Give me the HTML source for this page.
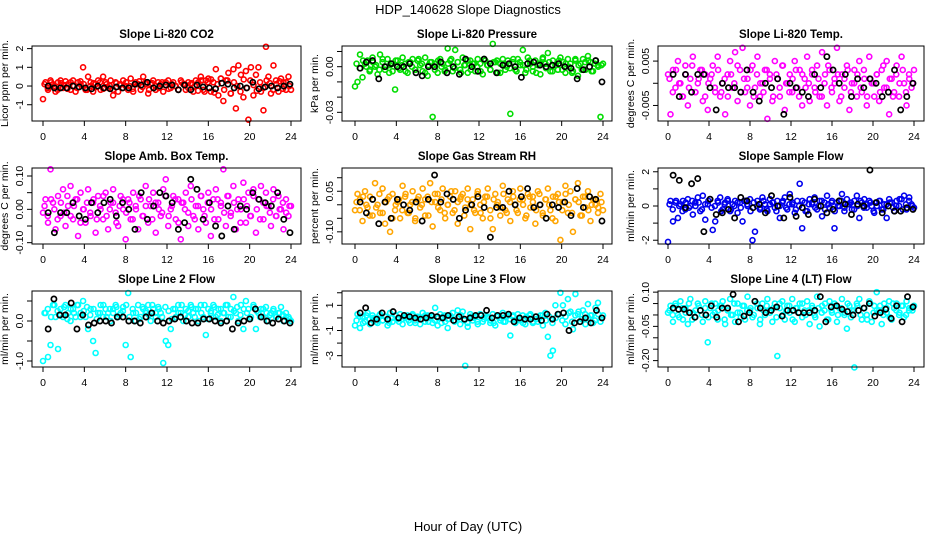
<!DOCTYPE html>
<html><head><meta charset="utf-8">
<style>
html,body{margin:0;padding:0;background:#fff;}
svg{display:block;font-family:"Liberation Sans",sans-serif;}
</style></head>
<body>
<svg id="chart" width="936" height="540" viewBox="0 0 936 540">
<text x="468" y="14" text-anchor="middle" font-size="13">HDP_140628  Slope Diagnostics</text>
<text x="468" y="531" text-anchor="middle" font-size="13">Hour of Day (UTC)</text>
</svg>
<script>
// ---- data arrays ----
const xTicks = [0,4,8,12,16,20,24];
const titles = ["Slope Li-820 CO2","Slope Li-820 Pressure","Slope Li-820 Temp.","Slope Amb. Box Temp.","Slope Gas Stream RH","Slope Sample Flow","Slope Line 2 Flow","Slope Line 3 Flow","Slope Line 4 (LT) Flow"];
const yTitles = ["Licor ppm per min.","kPa per min.","degrees C per min.","degrees C per min.","percent per min.","ml/min per min.","ml/min per min.","ml/min per min.","ml/min per min."];
const colors = ["#ff0000","#00dd00","#ff00ff","#ff00ff","#ffa500","#0000ee","#00ffff","#00ffff","#00ffff"];

const co2All = [-0.7,0.2,-0.2,0.3,0.1,-0.3,0.2,0.3,-0.1,0.25,0.1,-0.2,0.3,-0.3,0.2,0.1,1.0,-0.2,0.5,0.2,-0.3,0.1,0.3,-0.2,0.5,0.2,-0.1,0.3,-0.5,0.2,-0.3,0.1,0.3,0.0,-0.2,0.4,-0.3,0.2,0.1,-0.2,0.5,0.2,-0.4,0.1,0.3,-0.2,0.2,0.1,-0.3,0.2,0.3,-0.1,0.2,0.0,-0.2,0.3,0.1,-0.2,0.2,0.1,-0.3,0.3,0.2,0.5,-0.2,0.3,0.4,-0.3,0.2,0.9,-0.5,0.4,-0.8,0.3,0.7,-0.4,0.9,-1.2,1.1,0.6,-0.6,0.8,-1.8,1.0,-0.5,0.6,1.0,-0.3,-1.3,2.1,0.5,-0.4,1.1,0.3,-0.3,0.4,0.2,-0.2,0.5,-0.2];
const co2Core = [0.1,-0.1,0.2,0.0,-0.2,0.15,0.05,-0.15,0.2,0.0,-0.1,0.25,0.1,-0.2,0.0,0.15,-0.05,0.2,-0.15,0.1,0.0,-0.2,0.15,0.05,-0.1,0.2,0.0,-0.15,0.1,0.25,-0.05,0.1,-0.2,0.15,0.0,-0.1,0.2,0.05,-0.15,0.1,0.0,-0.2,0.2,0.1,-0.1,0.15,0.0,-0.25,0.3,-0.3,0.2,0.35,-0.35,0.1,0.4,-0.2,0.3,-0.4,0.2,0.0,-0.3,0.35,-0.1,0.3,0.05,-0.25,0.2,-0.1,0.3,0.15,-0.2,0.1,0.25,-0.15,0.2,0.0];
const co2Sel = [0.0,-0.1,-0.1,-0.1,0.0,-0.05,-0.1,-0.15,0.0,-0.1,-0.15,-0.05,-0.1,-0.1,0.1,0.05,0.2,-0.1,0.0,0.05,0.05,-0.2,0.05,-0.2,0.05,-0.05,-0.1,-0.15,0.15,0.1,-0.1,0.0,-0.1,0.2,-0.15,-0.05,0.0,-0.1,0.0,0.1];
const presAll = [-0.013,-0.01,0.008,-0.007,0.002,0.004,-0.002,0.006,0.0,-0.005,0.008,0.003,-0.002,0.005,0.001,-0.003,-0.015,0.004,-0.002,0.006,0.002,-0.004,0.003,0.005,-0.002,0.004,0.001,-0.003,0.006,-0.006,0.003,-0.033,0.002,-0.004,0.005,0.002,-0.002,0.012,0.004,-0.003,0.011,0.003,-0.002,0.006,0.001,-0.004,0.004,0.002,-0.003,0.005,0.002,-0.005,0.004,0.001,-0.002,0.015,0.003,-0.004,0.002,0.005,-0.002,0.004,-0.031,0.003,-0.002,0.005,0.001,0.011,-0.004,0.006,0.002,-0.003,0.004,0.001,-0.005,0.006,0.002,0.009,-0.003,0.004,0.001,-0.002,0.006,0.003,-0.004,0.005,0.002,-0.003,0.004,-0.006,0.002,0.005,-0.002,0.007,0.003,-0.003,0.004,0.001,-0.033,0.002];
const presCore = [0.002,-0.001,0.004,0.0,-0.003,0.003,0.001,-0.002,0.005,0.0,-0.004,0.002,0.004,-0.001,0.001,-0.003,0.003,0.0,-0.002,0.005,0.002,-0.004,0.001,0.003,-0.002,0.004,0.0,-0.003,0.002,0.005,-0.001,0.003,-0.004,0.001,0.004,-0.002,0.002,0.0,-0.003,0.005,0.001,-0.002,0.003,0.004,-0.004,0.002,0.0,-0.001,0.005,-0.003,0.003,0.001,-0.002,0.004,0.0,-0.004,0.002,0.005,-0.001,0.003,-0.003,0.001,0.004,-0.002,0.002,0.0,-0.004,0.005,0.001,-0.002,0.003,0.004,-0.003,0.002,0.0,0.001];
const presSel = [-0.001,0.003,0.004,-0.008,0.0,0.002,0.0,0.0,0.002,-0.004,-0.006,0.0,0.0,0.003,-0.004,0.0,-0.005,0.005,0.0,-0.003,0.005,0.002,-0.004,0.001,0.002,0.0,-0.007,0.002,0.003,0.001,0.0,0.001,0.002,0.0,-0.001,-0.008,-0.002,0.0,0.004,-0.01];
const tempAll = [0.002,-0.007,0.003,-0.001,0.005,0.0,-0.003,0.004,-0.005,0.001,0.006,-0.002,0.0,0.003,-0.004,0.002,-0.006,0.001,0.004,-0.002,0.006,-0.003,0.0,-0.007,0.002,0.005,-0.001,0.007,-0.004,0.003,0.008,-0.002,0.001,-0.005,0.004,-0.001,0.006,-0.003,0.0,0.003,-0.008,0.002,-0.004,0.005,0.001,-0.003,0.004,-0.006,0.0,0.002,-0.002,0.005,-0.001,0.003,-0.005,0.001,0.006,-0.004,0.002,-0.001,0.004,-0.003,0.007,0.0,-0.005,0.003,-0.002,0.001,0.008,-0.004,0.002,-0.001,0.004,-0.006,0.0,0.003,-0.003,0.005,-0.002,0.001,-0.005,0.006,0.0,-0.003,0.002,-0.004,0.003,-0.001,0.005,-0.007,0.001,-0.002,0.004,-0.003,0.006,0.0,-0.005,0.002,-0.001,0.003];
const tempCore = [0.001,-0.002,0.003,0.0,-0.003,0.002,-0.001,0.004,-0.002,0.001,0.003,-0.003,0.0,0.002,-0.001,0.003,-0.002,0.001,-0.003,0.002,0.0,0.004,-0.002,0.001,-0.001,0.003,-0.003,0.002,0.0,-0.002,0.003,0.001,-0.003,0.002,-0.001,0.004,0.0,-0.002,0.001,0.003,-0.003,0.002,-0.001,0.0,0.003,-0.002,0.001,-0.003,0.002,0.004,-0.001,0.0,0.002,-0.003,0.001,0.003,-0.002,0.0,0.002,-0.001,0.003,-0.003,0.001,0.0,0.002,-0.002,0.004,-0.001,0.001,-0.003,0.002,0.0,0.003,-0.002,0.001,0.0];
const tempSel = [0.002,-0.003,0.002,-0.002,0.002,0.002,-0.001,-0.006,0.0,-0.001,-0.001,-0.002,0.003,-0.002,-0.004,0.0,-0.001,0.001,-0.007,0.0,-0.001,-0.002,-0.003,0.002,-0.001,0.006,0.003,0.0,0.002,-0.003,0.001,-0.001,0.001,0.0,-0.003,-0.002,0.003,-0.006,-0.003,0.0];
const ambAll = [-0.01,0.03,-0.04,0.12,0.02,-0.06,0.04,-0.02,0.06,-0.05,0.01,0.07,-0.03,0.03,-0.08,0.05,0.0,-0.04,0.06,-0.02,0.02,-0.07,0.04,0.0,-0.03,0.05,-0.06,0.02,0.06,-0.01,-0.05,0.04,0.0,-0.09,0.03,-0.03,0.05,0.01,-0.06,0.03,-0.02,0.07,-0.04,0.01,0.05,-0.07,0.02,-0.02,0.06,0.09,-0.05,0.0,0.04,-0.03,0.03,-0.09,0.02,0.05,-0.05,0.07,-0.02,0.01,-0.06,0.04,0.0,-0.04,0.05,-0.08,0.03,0.06,-0.03,0.02,0.12,-0.05,0.04,-0.01,0.07,-0.06,0.03,0.0,0.08,-0.04,0.05,-0.02,0.06,-0.07,0.03,0.07,-0.03,0.05,0.01,-0.05,0.06,-0.02,0.04,0.0,-0.06,0.03,-0.02,0.01];
const ambCore = [0.01,-0.02,0.03,0.0,-0.03,0.02,-0.01,0.04,-0.02,0.01,0.03,-0.04,0.0,0.02,-0.01,0.03,-0.03,0.01,0.04,-0.02,0.0,0.02,-0.04,0.01,0.03,-0.01,0.02,-0.03,0.0,0.04,-0.02,0.01,0.03,-0.03,0.02,0.0,-0.01,0.04,-0.02,0.01,0.03,-0.04,0.02,0.0,-0.01,0.03,-0.03,0.01,0.04,-0.02,0.02,0.0,-0.03,0.03,0.01,-0.01,0.04,-0.02,0.02,0.0,-0.04,0.03,0.01,-0.02,0.04,0.0,-0.03,0.02,0.01,-0.01,0.03,-0.02,0.0,0.02,-0.01,0.01];
const ambSel = [-0.01,-0.07,-0.01,-0.01,0.02,-0.02,-0.03,0.02,-0.01,0.02,0.03,-0.02,0.02,0.0,-0.06,0.05,-0.03,0.01,0.05,0.04,0.02,-0.06,-0.04,0.09,0.06,-0.03,0.02,-0.05,-0.08,0.01,-0.06,0.01,0.0,0.05,0.03,0.02,0.01,0.05,-0.03,-0.07];
const rhAll = [-0.02,0.04,0.02,-0.06,0.05,-0.01,0.03,-0.04,0.08,0.0,-0.03,0.06,-0.07,0.02,-0.1,0.04,-0.02,0.01,-0.05,0.07,0.03,-0.03,0.0,0.05,-0.06,0.02,-0.01,0.06,-0.04,0.03,0.08,-0.08,0.01,0.04,-0.02,0.06,-0.05,0.0,0.03,-0.03,0.05,-0.07,0.02,0.04,-0.01,0.06,-0.09,0.02,-0.03,0.05,0.0,-0.05,0.03,0.06,-0.02,-0.09,0.04,0.01,-0.04,0.07,-0.02,0.02,-0.06,0.05,0.0,-0.03,0.06,0.02,-0.05,0.04,-0.01,0.03,-0.07,0.05,0.0,-0.04,0.02,0.06,-0.02,0.03,-0.06,0.04,-0.13,0.01,0.07,-0.03,0.05,-0.1,0.02,0.08,-0.04,0.03,-0.01,0.05,-0.06,0.02,0.0,-0.03,0.04,-0.02];
const rhCore = [0.01,-0.02,0.03,0.0,-0.04,0.02,-0.01,0.04,-0.03,0.01,0.03,-0.05,0.0,0.02,-0.02,0.04,-0.03,0.01,-0.05,0.03,0.0,0.02,-0.04,0.01,0.04,-0.01,0.02,-0.03,0.0,0.05,-0.02,0.01,0.03,-0.04,0.02,0.0,-0.02,0.04,-0.03,0.01,0.03,-0.05,0.02,0.0,-0.01,0.04,-0.03,0.01,0.03,-0.02,0.02,0.0,-0.04,0.03,0.01,-0.02,0.04,-0.03,0.02,0.0,-0.05,0.03,0.01,-0.02,0.04,0.0,-0.03,0.02,0.01,-0.04,0.03,-0.02,0.0,0.02,-0.01,0.01];
const rhSel = [0.01,-0.03,0.02,-0.07,0.01,-0.05,0.02,0.0,-0.02,0.01,-0.06,0.02,0.11,0.01,0.04,0.02,-0.05,-0.02,0.0,0.03,-0.01,-0.12,-0.01,-0.01,0.05,0.0,0.03,0.06,-0.01,0.0,-0.05,0.0,-0.01,0.01,-0.04,0.06,-0.01,0.03,0.02,-0.06];
const sampAll = [-2.1,0.3,-0.9,0.2,-0.7,0.1,0.3,-0.2,0.4,0.0,-0.5,0.2,0.5,-0.3,0.6,-0.8,0.1,0.4,-1.4,-0.9,0.3,0.5,-0.2,0.2,0.4,-0.3,0.1,0.3,-0.4,0.2,-0.9,0.3,0.0,0.4,-2.0,-1.5,0.3,-0.2,0.5,0.1,-0.3,0.4,0.2,-0.1,0.3,-0.7,0.2,0.5,-0.2,0.7,0.1,-0.4,0.3,1.3,-1.3,0.2,-0.3,0.4,0.1,0.5,-0.2,0.3,-0.6,0.2,0.6,-0.1,0.3,-1.3,0.2,0.0,0.7,-0.3,0.4,0.1,-0.2,0.3,0.6,-0.7,0.2,0.4,-0.1,0.3,0.0,-0.4,0.2,0.3,-0.2,0.1,-0.7,0.4,0.2,-0.3,0.3,0.0,0.4,0.6,-0.2,0.3,0.1,-0.1];
const sampCore = [0.1,-0.2,0.3,0.0,-0.3,0.2,-0.1,0.3,0.0,0.2,-0.2,0.1,0.3,-0.1,0.0,0.2,-0.3,0.1,0.3,-0.2,0.0,0.2,-0.1,0.3,0.1,-0.3,0.2,0.0,-0.1,0.3,-0.2,0.1,0.2,-0.3,0.0,0.3,-0.1,0.1,0.2,-0.2,0.0,0.3,-0.3,0.1,0.2,-0.1,0.0,0.3,-0.2,0.1,0.2,-0.3,0.0,0.3,-0.1,0.1,0.2,-0.2,0.0,0.3,-0.1,0.1,0.2,-0.3,0.0,0.3,-0.2,0.1,0.2,-0.1,0.0,0.4,-0.2,0.1,0.5,0.0];
const sampSel = [1.8,1.5,-0.1,1.3,1.6,-1.5,0.4,-0.5,-0.4,-0.2,-0.7,0.5,0.3,-0.1,0.1,-0.4,0.6,0.0,-0.7,0.5,-0.6,-0.1,-0.5,0.4,0.0,-0.4,-0.2,0.3,0.1,-0.5,0.1,0.0,2.1,0.2,-0.4,0.0,-0.3,-0.3,-0.1,-0.2];
const l2All = [-1.0,0.2,-0.9,-0.6,0.4,0.1,-0.7,0.3,0.1,0.4,0.2,0.0,0.3,0.1,0.4,0.2,0.5,0.1,-0.2,0.3,-0.5,-0.8,0.2,0.4,0.1,0.3,0.2,0.0,0.3,0.4,0.1,0.2,0.35,-0.6,0.7,-0.9,0.2,0.0,0.4,0.1,0.3,0.2,0.4,0.0,0.3,0.1,0.35,0.2,-1.05,-0.5,-0.6,-0.2,0.3,0.1,0.4,0.2,0.0,0.3,0.1,0.4,0.2,0.3,0.0,0.4,0.1,-0.35,0.3,0.2,0.4,0.1,0.3,0.0,0.2,0.4,0.1,0.3,0.6,0.2,0.0,0.4,-0.2,0.5,0.3,0.1,0.4,-0.2,0.2,0.3,0.1,0.35,0.0,0.2,0.3,0.1,0.2,0.35,0.0,0.2,0.1,0.0];
const l2Core = [0.2,0.3,0.1,0.4,0.25,0.15,0.35,0.05,0.3,0.2,0.4,0.1,0.25,0.35,0.15,0.3,0.05,0.2,0.4,0.1,0.3,0.2,0.35,0.15,0.25,0.4,0.1,0.3,0.2,0.05,0.35,0.25,0.15,0.4,0.2,0.3,0.1,0.35,0.25,0.05,0.3,0.2,0.4,0.15,0.25,0.35,0.1,0.3,0.2,0.4,0.05,0.25,0.35,0.15,0.3,0.2,0.4,0.1,0.25,0.35,0.15,0.3,0.2,0.05,0.35,0.25,0.1,0.3,0.2,0.15,0.25,0.1,0.2,0.15,0.1,0.05];
const l2Sel = [-0.2,0.55,0.15,0.15,0.45,-0.2,0.15,-0.1,-0.05,0.0,0.0,-0.05,0.1,0.1,0.0,0.0,-0.05,0.1,0.2,0.0,-0.05,0.0,0.05,0.1,0.0,-0.05,-0.05,0.05,0.05,0.0,-0.05,0.0,-0.2,-0.05,0.0,0.05,0.3,0.1,0.0,-0.05,0.05,0.0,-0.05];
const l3All = [-0.6,0.3,-0.8,0.1,-0.3,0.4,-0.5,0.2,0.0,-0.4,0.3,-0.2,0.1,-0.6,0.4,-0.3,0.2,-0.1,0.3,-0.5,0.0,0.2,-0.4,0.3,-0.2,0.1,-0.5,0.4,-0.3,0.2,0.0,-0.4,0.8,-0.6,0.3,0.1,-0.3,-0.8,0.2,0.4,-0.2,0.6,-0.5,0.5,-3.8,-0.7,0.3,-0.2,0.1,-0.5,0.3,-0.3,0.2,0.0,-0.4,0.3,-0.6,0.1,-0.2,0.4,-0.3,0.2,-1.4,0.1,-0.4,0.3,-0.2,0.2,-0.5,0.0,0.3,-0.4,0.1,-0.3,0.2,-0.6,0.4,-1.5,-3.0,-2.6,1.0,0.3,2.0,1.0,-0.5,1.5,0.5,-0.9,1.9,0.3,-0.3,0.6,-0.5,1.1,0.2,-0.4,0.8,1.2,-0.3,0.2];
const l3Core = [-0.2,0.1,-0.4,0.2,-0.1,0.0,-0.3,0.2,-0.2,0.1,-0.4,0.0,0.2,-0.3,-0.1,0.1,-0.2,0.2,-0.4,0.0,-0.1,0.2,-0.3,0.1,-0.2,0.0,-0.4,0.2,-0.1,0.1,-0.3,0.0,0.2,-0.2,-0.4,0.1,0.0,-0.3,0.2,-0.1,0.1,-0.2,-0.4,0.2,0.0,-0.3,0.1,-0.1,0.2,-0.2,0.0,-0.4,0.1,0.2,-0.3,-0.1,0.0,0.2,-0.2,0.1,-0.4,0.0,0.3,-0.2,0.1,0.4,-0.3,0.2,0.5,-0.1,0.3,0.0,0.2,-0.2,0.3,0.0];
const l3Sel = [0.4,0.8,-0.4,-0.1,0.4,-0.1,0.5,0.0,0.2,0.1,0.0,-0.1,0.0,0.2,0.1,0.0,0.2,-0.2,0.1,-0.1,0.0,0.2,0.2,0.6,0.0,0.2,0.2,0.3,-0.3,0.0,-0.1,-0.1,0.1,-0.2,0.3,-0.1,0.3,0.4,-1.0,-0.4,-0.3,0.0,-0.4,0.6,0.0];
const l4All = [0.01,0.04,-0.03,0.05,0.0,0.06,-0.02,0.03,-0.04,0.07,0.01,-0.01,0.05,0.02,-0.03,0.06,-0.12,0.03,0.0,0.05,-0.02,0.04,0.06,-0.04,0.02,0.07,0.0,-0.03,0.05,0.01,0.04,-0.02,0.08,0.02,-0.01,0.06,0.03,-0.04,0.05,0.0,0.07,0.02,-0.03,0.05,-0.18,0.03,0.06,-0.02,0.04,0.01,0.07,-0.03,0.03,0.05,-0.01,0.02,0.06,-0.04,0.03,0.0,0.08,-0.05,0.04,0.02,-0.02,0.06,0.01,0.05,-0.03,0.03,0.07,0.0,-0.06,0.04,0.02,-0.23,0.05,0.07,-0.02,0.03,0.0,0.06,-0.03,0.04,0.1,0.02,-0.04,0.05,0.01,0.06,-0.02,0.03,0.05,0.0,0.04,-0.01,0.06,0.02,0.03,0.04];
const l4Core = [0.02,0.0,0.04,-0.01,0.03,0.01,0.05,-0.02,0.02,0.04,0.0,0.03,-0.01,0.05,0.01,0.02,0.04,-0.02,0.03,0.0,0.05,0.01,-0.01,0.04,0.02,0.03,0.0,0.05,-0.02,0.02,0.04,0.01,0.03,-0.01,0.05,0.0,0.02,0.04,-0.02,0.03,0.01,0.05,0.0,0.02,0.04,-0.01,0.03,0.01,0.05,-0.02,0.02,0.04,0.0,0.03,0.01,0.05,-0.01,0.02,0.04,0.0,0.03,-0.02,0.05,0.01,0.02,0.04,0.0,0.03,-0.01,0.05,0.02,0.01,0.04,0.0,0.03,0.02];
const l4Sel = [0.03,0.025,0.025,0.01,-0.01,0.02,0.0,0.04,-0.01,0.03,0.03,0.09,-0.03,-0.005,0.01,0.06,0.03,0.01,0.02,0.035,-0.005,0.02,0.02,0.01,0.01,0.01,0.02,0.08,-0.03,0.035,0.04,0.025,0.015,0.0,0.02,0.03,0.05,-0.005,0.01,0.025,-0.015,0.04,-0.03,0.08,0.035];

const allSeries = [co2All,presAll,tempAll,ambAll,rhAll,sampAll,l2All,l3All,l4All];
const coreSeries = [co2Core,presCore,tempCore,ambCore,rhCore,sampCore,l2Core,l3Core,l4Core];
const selSeries = [co2Sel,presSel,tempSel,ambSel,rhSel,sampSel,l2Sel,l3Sel,l4Sel];
const yMins = [-1.87,-0.0357,-0.0085,-0.104,-0.145,-2.22,-1.15,-3.9,-0.228];
const yMaxs = [2.14,0.0136,0.0084,0.124,0.136,2.22,0.75,2.14,0.105];
const yTickVals = [[-1,0,1,2],[-0.03,-0.02,-0.01,0,0.01],[-0.005,0,0.005],[-0.1,-0.05,0,0.05,0.1],[-0.1,-0.05,0,0.05,0.1],[-2,-1,0,1,2],[-1,-0.5,0,0.5],[-3,-2,-1,0,1,2],[-0.2,-0.15,-0.1,-0.05,0,0.05,0.1]];
const yTickLabels = [["-1","0","1","2"],["-0.03","","","0.00",""],["-0.005","","0.005"],["-0.10","","0.00","","0.10"],["-0.10","","","0.05",""],["-2","","0","","2"],["-1.0","","0.0",""],["-3","","-1","","1",""],["-0.20","","","-0.05","","","0.10"]];

// ---- layout ----
const colBox = [[32,301],[342,612],[658,924]];
const colX = [[43,291],[355,603],[668,914]];
const rowBox = [[46,121],[168,244],[291,367]];
const NS = "http://www.w3.org/2000/svg";
const svg = document.getElementById("chart");
function mk(tag, attrs, parent){
  const e = document.createElementNS(NS, tag);
  for (const k in attrs) e.setAttribute(k, attrs[k]);
  (parent||svg).appendChild(e);
  return e;
}
for (let p = 0; p < 9; p++){
  const c = p % 3, r = Math.floor(p/3);
  const [bx0,bx1] = colBox[c], [by0,by1] = rowBox[r], [x0,x1] = colX[c];
  const xs = h => x0 + (h/24)*(x1-x0);
  const ys = v => by1 - (v - yMins[p])/(yMaxs[p]-yMins[p])*(by1-by0);
  const g = mk("g", {});
  
  
  const t = mk("text", {x:(bx0+bx1)/2, y:by0-8, "text-anchor":"middle", "font-size":"11.5", "font-weight":"bold"}, g);
  t.textContent = titles[p];
  
  
  // points
  const pts = mk("g", {fill:"none", "stroke-width":"1.6", stroke:colors[p]}, g);
  
  
  const all = allSeries[p];
  for (let i = 0; i < all.length; i++){
    const h = i*24/(all.length-1);
    const ci = mk("circle", {cx:xs(h), cy:ys(all[i]), r:2.5}, pts);
    
    
  }
  const core = coreSeries[p];
  for (let i = 0; i < core.length; i++){
    const h = 0.15 + i*23.7/(core.length-1);
    const ci = mk("circle", {cx:xs(h), cy:ys(core[i]), r:2.5}, pts);
    
    
  }
  const sp = mk("g", {fill:"none", "stroke-width":"1.7", stroke:"#000"}, g);
  
  
  const sel = selSeries[p];
  for (let i = 0; i < sel.length; i++){
    const h = 0.5 + i*23.4/(sel.length-1);
    const ci = mk("circle", {cx:xs(h), cy:ys(sel[i]), r:2.6}, sp);
    
    
  }
  // box
  const b = mk("rect", {x:bx0, y:by0, width:bx1-bx0, height:by1-by0, fill:"none", stroke:"#000", "stroke-width":"1"}, g);
  
  
  // x axis
  const xa = mk("g", {"font-size":"10.5"}, g);
  
  
  mk("line", {x1:xs(0), x2:xs(24), y1:by1, y2:by1, stroke:"#000"}, xa);
  xTicks.forEach(v => {
    mk("line", {x1:xs(v), x2:xs(v), y1:by1, y2:by1+5, stroke:"#000"}, xa);
    const tl = mk("text", {x:xs(v), y:by1+19, "text-anchor":"middle"}, xa);
    tl.textContent = v;
    
    
  });
  // y axis
  const ya = mk("g", {"font-size":"10.5"}, g);
  
  
  const tv = yTickVals[p];
  mk("line", {x1:bx0, x2:bx0, y1:ys(tv[0]), y2:ys(tv[tv.length-1]), stroke:"#000"}, ya);
  tv.forEach((v,i) => {
    mk("line", {x1:bx0-5, x2:bx0, y1:ys(v), y2:ys(v), stroke:"#000"}, ya);
    if (yTickLabels[p][i]){
      const lx = bx0-9, ly = ys(v);
      const tl = mk("text", {x:lx, y:ly, "text-anchor":"middle", transform:`rotate(-90 ${lx} ${ly})`}, ya);
      tl.textContent = yTickLabels[p][i];
      
      
    }
  });
  const tx = bx0-24, ty = (by0+by1)/2;
  const yt = mk("text", {x:tx, y:ty, "text-anchor":"middle", "font-size":"10.5", transform:`rotate(-90 ${tx} ${ty})`}, g);
  yt.textContent = yTitles[p];
  
  
}
</script>
</body></html>
